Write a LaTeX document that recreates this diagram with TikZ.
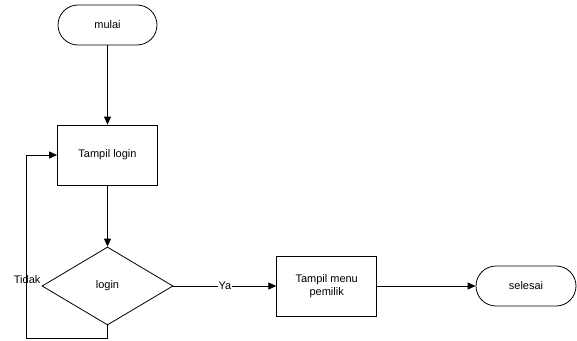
\documentclass[tikz,border=0pt]{standalone}
\usepackage{fontspec}
\setmainfont{Liberation Sans}
\usetikzlibrary{arrows.meta,shapes.geometric,calc}
\begin{document}
\begin{tikzpicture}[x=1pt,y=-1pt,
  every node/.style={font=\fontsize{11}{12.5}\selectfont},
  line/.style={draw, line width=0.8pt},
  arr/.style={line, -{Triangle[length=8pt,width=7pt]}},
  term/.style={draw, line width=0.8pt, rounded corners=20pt, minimum width=99pt, minimum height=40pt, inner sep=0pt},
  proc/.style={draw, line width=0.8pt, minimum width=100pt, minimum height=60pt, inner sep=0pt, align=center},
  dec/.style={draw, line width=0.8pt, diamond, minimum width=131pt, minimum height=78pt, inner sep=0pt, aspect=1.68}
]
\useasboundingbox (0,0) rectangle (577,340);
\node[term] (mulai) at (107.5,25) {mulai};
\node[proc] (login) at (107.5,155) {Tampil login};
\node[dec] (cek) at (107.5,286) {login};
\node[proc] (menu) at (326.7,286) {Tampil menu\\pemilik};
\node[term, minimum width=100pt] (selesai) at (526,286) {selesai};
\coordinate (c1) at (107.5,338);
\coordinate (c2) at (26.5,338);
\coordinate (c3) at (26.5,155);
\draw[arr] (mulai) -- (login);
\draw[arr] (login) -- (cek);
\draw[arr] (cek.east) -- node[fill=white, inner sep=1pt] (ya) {Ya} (menu.west);
\draw[arr] (menu) -- (selesai);
\draw[arr] (cek.south) -- (c1) -- (c2) -- (c3) -- (login.west);
\node[anchor=east, inner sep=1pt] (tidak) at ($(cek.west)+(0,-6)$) {Tidak};
\end{tikzpicture}
\end{document}
